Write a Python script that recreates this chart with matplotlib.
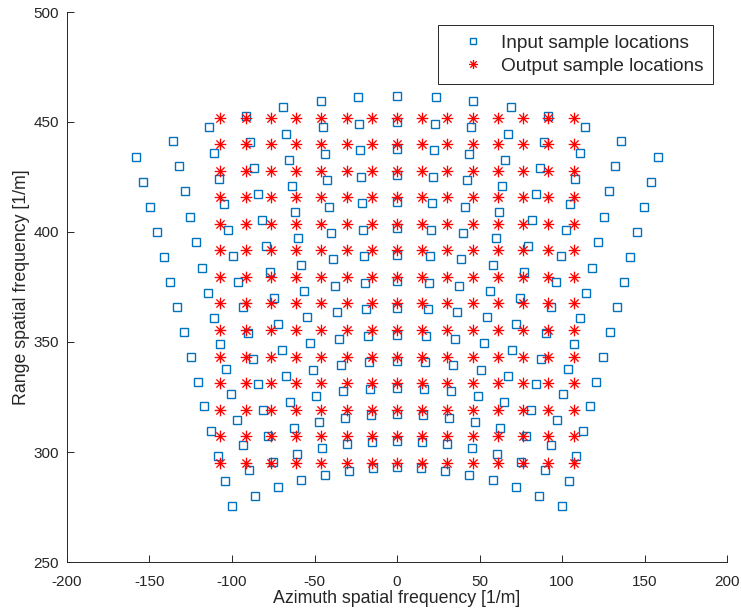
import numpy as np
import matplotlib
matplotlib.use('Agg')
from matplotlib import pyplot as plt
from matplotlib.path import Path

# polar (input) grid
in_angle_deg = [-20.0, -17.1, -14.3, -11.4, -8.6, -5.7, -2.9, 0.0,
                2.9, 5.7, 8.6, 11.4, 14.3, 17.1, 20.0]
in_radius = [293.0, 305.1, 317.1, 329.2, 341.3, 353.3, 365.4, 377.5,
             389.5, 401.6, 413.6, 425.7, 437.8, 449.8, 461.9]

# rectangular (output) grid
out_x = [-107.0, -91.7, -76.4, -61.1, -45.9, -30.6, -15.3, 0.0,
         15.3, 30.6, 45.9, 61.1, 76.4, 91.7, 107.0]
out_y = [295.0, 307.1, 319.2, 331.2, 343.3, 355.4, 367.5, 379.5,
         391.6, 403.7, 415.8, 427.8, 439.9, 452.0]

plt.rcParams['font.family'] = ['Liberation Sans', 'DejaVu Sans']
plt.rcParams['axes.unicode_minus'] = False
txt = '#262626'

# matlab style '*' : plus + cross, drawn as strokes
d = 0.7071
star = Path([(0, -1), (0, 1), (-1, 0), (1, 0), (-d, -d), (d, d), (-d, d), (d, -d)],
            [Path.MOVETO, Path.LINETO] * 4)

th, rr = np.meshgrid(np.deg2rad(in_angle_deg), in_radius)
kx_in = rr * np.sin(th)
ky_in = rr * np.cos(th)
kx_out, ky_out = np.meshgrid(out_x, out_y)

fig = plt.figure(figsize=(7.41, 6.15), dpi=100)
ax = fig.add_axes([67/741, 1-562/615, 660/741, 550/615])

ax.plot(kx_in.ravel(), ky_in.ravel(), ls='none', marker='s', ms=5.6,
        mfc='none', mec='#0072BD', mew=1.0, label='Input sample locations')
ax.plot(kx_out.ravel(), ky_out.ravel(), ls='none', marker=star, ms=8.4,
        mfc='none', mec='#FF0000', mew=0.95, label='Output sample locations')

ax.set_xlim(-200, 200)
ax.set_ylim(250, 500)
ax.set_xticks(np.arange(-200, 201, 50))
ax.set_yticks(np.arange(250, 501, 50))
ax.spines['top'].set_visible(False)
ax.spines['right'].set_visible(False)
for s in ['left', 'bottom']:
    ax.spines[s].set_color(txt)
    ax.spines[s].set_linewidth(0.7)
ax.tick_params(direction='in', length=5, width=0.7, colors=txt, labelsize=11)
ax.tick_params(axis='x', pad=9)
ax.tick_params(axis='y', pad=6)
ax.set_xlabel('Azimuth spatial frequency [1/m]', fontsize=12.8, color=txt, labelpad=1)
ax.set_ylabel('Range spatial frequency [1/m]', fontsize=12.8, color=txt, labelpad=2)

leg = ax.legend(loc='upper right', bbox_to_anchor=(713/741, 1-25/615),
                bbox_transform=fig.transFigure, fontsize=13.7, fancybox=False,
                edgecolor='#262626', framealpha=1, borderpad=0.5,
                handlelength=2.7, handletextpad=0.1, labelspacing=0.29,
                borderaxespad=0)
leg.get_frame().set_linewidth(0.7)
leg.legend_handles[0].set_markersize(4.3)
leg.legend_handles[1].set_markersize(6.5)
for t in leg.get_texts():
    t.set_color(txt)

fig.savefig('out.png', dpi=100)
